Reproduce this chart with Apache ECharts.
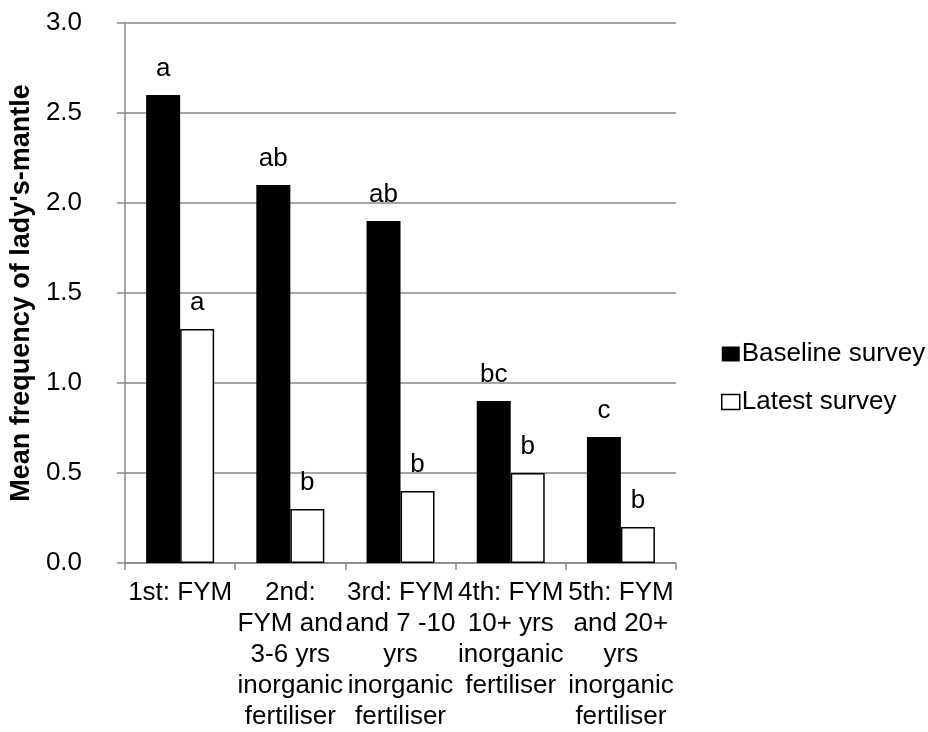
<!DOCTYPE html>
<html>
<head>
<meta charset="utf-8">
<script src="https://cdn.jsdelivr.net/npm/echarts@6/dist/echarts.min.js"></script>
<style>
html,body{margin:0;padding:0;background:#fff;}
#chart{width:928px;height:732px;}
</style>
</head>
<body>
<div id="chart"></div>
<script>
var categories = [
  "1st: FYM",
  "2nd:\nFYM and\n3-6 yrs\ninorganic\nfertiliser",
  "3rd: FYM\nand 7 -10\nyrs\ninorganic\nfertiliser",
  "4th: FYM\n10+ yrs\ninorganic\nfertiliser",
  "5th: FYM\nand 20+\nyrs\ninorganic\nfertiliser"
];
var baselineValues = [2.6, 2.1, 1.9, 0.9, 0.7];
var latestValues = [1.3, 0.3, 0.4, 0.5, 0.2];
var baselineLetters = ["a", "ab", "ab", "bc", "c"];
var latestLetters = ["a", "b", "b", "b", "b"];
var seriesNames = ["Baseline survey", "Latest survey"];
var yTitle = "Mean frequency of lady's-mantle";

var FONT = "Liberation Sans, Arial, sans-serif";
var FS = 26;
var axisGray = "#898989";

var chart = echarts.init(document.getElementById("chart"));
chart.setOption({
  backgroundColor: "#fff",
  animation: false,
  textStyle: {fontFamily: FONT, color: "#000"},
  grid: {left: 106, right: 252, top: 23, bottom: 164, containLabel: false},
  legend: {
    orient: "vertical",
    left: 716,
    top: 336,
    itemWidth: 18,
    itemHeight: 15,
    itemGap: 22,
    icon: "rect",
    textStyle: {fontFamily: FONT, fontSize: FS, lineHeight: 26, color: "#000", padding: [0, 0, 0, -3]},
    data: [
      {name: seriesNames[0], itemStyle: {color: "#000", borderColor: "#000", borderWidth: 0}},
      {name: seriesNames[1], itemStyle: {color: "#fff", borderColor: "#000", borderWidth: 1.5}}
    ]
  },
  xAxis: {
    type: "category",
    data: categories,
    axisLine: {lineStyle: {color: axisGray, width: 1.5}},
    axisTick: {show: true, length: 7, lineStyle: {color: axisGray, width: 1.5}},
    axisLabel: {
      interval: 0,
      margin: 14,
      fontFamily: FONT,
      fontSize: FS,
      lineHeight: 31,
      color: "#000",
      align: "center"
    }
  },
  yAxis: {
    type: "value",
    min: 0,
    max: 3,
    interval: 0.5,
    name: yTitle,
    nameLocation: "middle",
    nameGap: 70,
    nameTextStyle: {fontFamily: FONT, fontSize: 27, lineHeight: 27, fontWeight: "bold", color: "#000"},
    axisLine: {show: true, lineStyle: {color: axisGray, width: 1.5}},
    axisTick: {show: true, length: 8, lineStyle: {color: axisGray, width: 1.5}},
    axisLabel: {
      margin: 43,
      fontFamily: FONT,
      fontSize: FS,
      color: "#000",
      formatter: function (v) { return v.toFixed(1); }
    },
    splitLine: {lineStyle: {color: axisGray, width: 1.5}}
  },
  series: [
    {
      name: seriesNames[0],
      type: "bar",
      data: baselineValues,
      barWidth: 34,
      barGap: "0%",
      itemStyle: {color: "#000"},
      label: {
        show: true,
        position: "top",
        distance: 13,
        fontFamily: FONT,
        fontSize: FS,
        lineHeight: 26,
        color: "#000",
        formatter: function (p) { return baselineLetters[p.dataIndex]; }
      }
    },
    {
      name: seriesNames[1],
      type: "bar",
      data: latestValues,
      barWidth: 34,
      barGap: "0%",
      itemStyle: {color: "#fff", borderColor: "#000", borderWidth: 1.5},
      label: {
        show: true,
        position: "top",
        distance: 13,
        fontFamily: FONT,
        fontSize: FS,
        lineHeight: 26,
        color: "#000",
        formatter: function (p) { return latestLetters[p.dataIndex]; }
      }
    }
  ]
});
</script>
</body>
</html>
